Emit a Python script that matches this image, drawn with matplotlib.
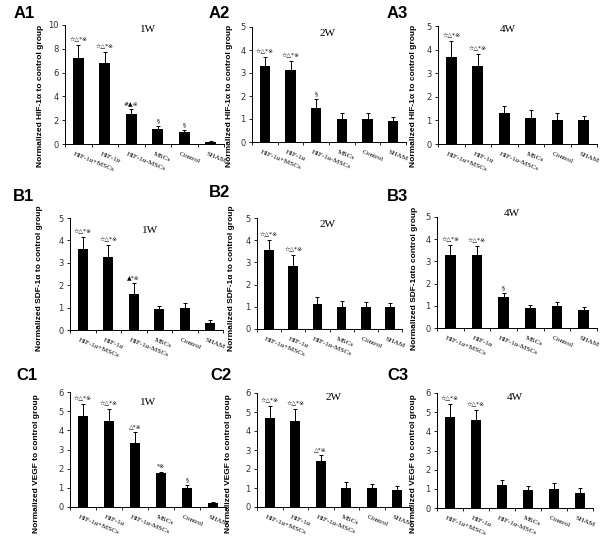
import matplotlib
matplotlib.use("Agg")
import matplotlib.pyplot as plt
import matplotlib.transforms as mtrans
import numpy as np

# --- data ---
groups = ["HIF-1α+MSCs", "HIF-1α", "HIF-1α-MSCs", "MSCs", "Control", "SHAM"]

hif_1w = [7.2, 6.8, 2.55, 1.28, 1.0, 0.18]
hif_1w_err = [1.1, 0.9, 0.35, 0.25, 0.15, 0.05]
hif_1w_sig = ["☆△*※", "☆△*※", "#▲※", "§", "§", ""]

hif_2w = [3.3, 3.15, 1.5, 0.99, 1.0, 0.93]
hif_2w_err = [0.4, 0.38, 0.36, 0.25, 0.24, 0.16]
hif_2w_sig = ["☆△*※", "☆△*※", "§", "", "", ""]

hif_4w = [3.69, 3.3, 1.31, 1.12, 1.01, 1.0]
hif_4w_err = [0.68, 0.53, 0.32, 0.31, 0.3, 0.2]
hif_4w_sig = ["☆△*※", "☆△*※", "", "", "", ""]

sdf_1w = [3.61, 3.28, 1.61, 0.93, 1.0, 0.33]
sdf_1w_err = [0.54, 0.51, 0.48, 0.16, 0.19, 0.12]
sdf_1w_sig = ["☆△*※", "☆△*※", "▲*※", "", "", ""]

sdf_2w = [3.58, 2.83, 1.12, 1.0, 0.99, 0.97]
sdf_2w_err = [0.42, 0.49, 0.3, 0.26, 0.21, 0.18]
sdf_2w_sig = ["☆△*※", "☆△*※", "", "", "", ""]

sdf_4w = [3.27, 3.29, 1.38, 0.92, 1.0, 0.83]
sdf_4w_err = [0.48, 0.42, 0.2, 0.13, 0.17, 0.12]
sdf_4w_sig = ["☆△*※", "☆△*※", "§", "", "", ""]

vegf_1w = [4.76, 4.49, 3.32, 1.75, 0.98, 0.22]
vegf_1w_err = [0.61, 0.61, 0.61, 0.09, 0.16, 0.03]
vegf_1w_sig = ["☆△*※", "☆△*※", "△*※", "*※", "§", ""]

vegf_2w = [4.68, 4.54, 2.44, 1.0, 1.0, 0.92]
vegf_2w_err = [0.62, 0.62, 0.31, 0.3, 0.23, 0.17]
vegf_2w_sig = ["☆△*※", "☆△*※", "△*※", "", "", ""]

vegf_4w = [4.77, 4.6, 1.21, 0.93, 1.0, 0.8]
vegf_4w_err = [0.65, 0.52, 0.24, 0.22, 0.28, 0.25]
vegf_4w_sig = ["☆△*※", "☆△*※", "", "", "", ""]

W, H = 600, 550
fig = plt.figure(figsize=(6, 5.5), dpi=100)
fig.patch.set_facecolor("white")

sym_font = ["DejaVu Sans", "Noto Sans CJK SC"]


def px_axes(l, r, t, b):
    return fig.add_axes([l / W, 1 - b / H, (r - l) / W, (b - t) / H])


def panel(box, vals, errs, sigs, ymax, ystep, title, title_pos, ylabel, ylab_px, tag, tag_px):
    ax = px_axes(*box)
    x = np.arange(len(groups))
    ax.bar(x, vals, width=0.4, color="black", zorder=2)
    ax.errorbar(x, vals, yerr=[np.zeros(len(vals)), errs], fmt="none",
                ecolor="black", elinewidth=0.7, capsize=1.3, capthick=0.7, zorder=3)
    for xi, v, e, s in zip(x, vals, errs, sigs):
        if s:
            ax.text(xi, v + e + ymax * 0.025, s, ha="center", va="bottom",
                    fontsize=4.3, family=sym_font)
    ax.set_xlim(-0.5, 5.5)
    ax.set_ylim(0, ymax)
    ax.set_yticks(np.arange(0, ymax + 0.01, ystep))
    ax.tick_params(axis="y", direction="out", length=2.5, width=0.6, labelsize=6,
                   labelcolor="#333333", pad=2)
    # category labels at bar centres, tick marks between categories
    ax.set_xticks(x)
    ax.set_xticklabels(groups, rotation=-22, ha="left", va="top",
                       rotation_mode="anchor", fontsize=5.2, family="Liberation Serif")
    ax.tick_params(axis="x", which="major", length=0, pad=5)
    ax.set_xticks(np.arange(-0.5, 5.6, 1.0), minor=True)
    ax.tick_params(axis="x", which="minor", direction="out", length=2.5, width=0.6)
    off = mtrans.ScaledTranslation(-4 / 100, 0, fig.dpi_scale_trans)
    for lab in ax.get_xticklabels():
        lab.set_transform(lab.get_transform() + off)
    for sp in ["top", "right"]:
        ax.spines[sp].set_visible(False)
    for sp in ["left", "bottom"]:
        ax.spines[sp].set_linewidth(0.7)
    ax.text(title_pos[0], title_pos[1], title, transform=ax.transAxes, ha="center",
            va="center", fontsize=8, family="Liberation Serif")
    ax.set_ylabel(ylabel, fontsize=6, fontweight="bold", family="Liberation Sans")
    ax.yaxis.set_label_coords(ylab_px[0] / W, 1 - ylab_px[1] / H, transform=fig.transFigure)
    fig.text(tag_px[0] / W, 1 - tag_px[1] / H, tag, ha="center", va="center",
             fontsize=12, fontweight="bold", family="Liberation Sans")
    return ax


hif_lab = "Normalized HIF-1α to control group"
sdf_lab = "Normalized SDF-1α to control group"
vegf_lab = "Normalized VEGF to control group"

panel((65, 224, 25, 144), hif_1w, hif_1w_err, hif_1w_sig, 10, 2, "1W", (0.52, 0.96),
      hif_lab, (44, 96), "A1", (24, 14))
panel((252, 406, 27, 142), hif_2w, hif_2w_err, hif_2w_sig, 5, 1, "2W", (0.49, 0.94),
      hif_lab, (233, 96), "A2", (219, 14))
panel((438, 597, 26, 144), hif_4w, hif_4w_err, hif_4w_sig, 5, 1, "4W", (0.44, 0.97),
      hif_lab, (417, 96), "A3", (397, 14))

panel((70, 223, 218, 330), sdf_1w, sdf_1w_err, sdf_1w_sig, 5, 1, "1W", (0.52, 0.89),
      sdf_lab, (43, 278), "B1", (24, 196))
panel((257, 402, 218, 329), sdf_2w, sdf_2w_err, sdf_2w_sig, 5, 1, "2W", (0.49, 0.94),
      sdf_lab, (235, 278), "B2", (219, 193))
panel((437, 597, 217, 328), sdf_4w, sdf_4w_err, sdf_4w_sig, 5, 1, "4W", (0.47, 1.03),
      "Normalized SDF-1αto control group", (418, 278), "B3", (397, 196))

panel((70, 226, 392, 507), vegf_1w, vegf_1w_err, vegf_1w_sig, 6, 1, "1W", (0.5, 0.91),
      vegf_lab, (40, 464), "C1", (27, 375))
panel((257, 410, 393, 507), vegf_2w, vegf_2w_err, vegf_2w_sig, 6, 1, "2W", (0.5, 0.96),
      vegf_lab, (232, 464), "C2", (221, 375))
panel((437, 593, 393, 508), vegf_4w, vegf_4w_err, vegf_4w_sig, 6, 1, "4W", (0.5, 0.96),
      vegf_lab, (417, 464), "C3", (398, 375))

fig.savefig("out.png", dpi=100, facecolor="white")
